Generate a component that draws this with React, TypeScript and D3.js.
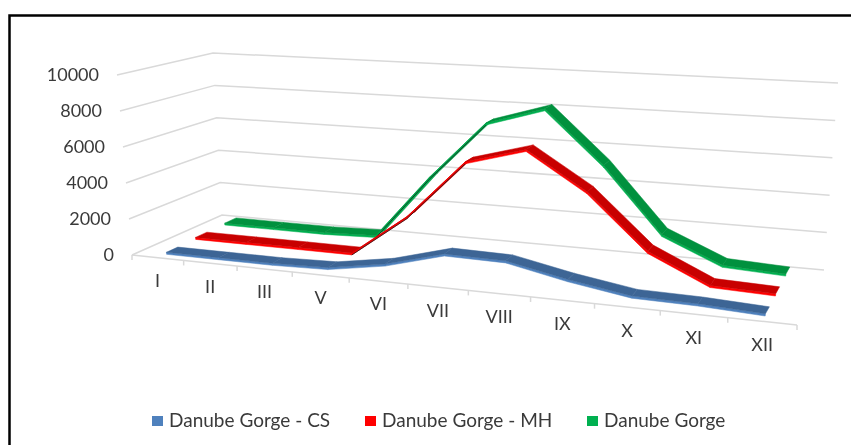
import React from "react";
import * as d3 from "d3";

const categories = ["I", "II", "III", "V", "VI", "VII", "VIII", "IX", "X", "XI", "XII"];
const gorgeCS = [70, 70, 70, 150, 650, 1500, 1450, 800, 300, 250, 100];
const gorgeMH = [150, 150, 150, 150, 2450, 5700, 6600, 4600, 1750, 300, 200];
const gorge = [200, 200, 200, 300, 3900, 7200, 8200, 5300, 1800, 450, 300];
const yTicks = [0, 2000, 4000, 6000, 8000, 10000];
const seriesNames = ["Danube Gorge - CS", "Danube Gorge - MH", "Danube Gorge"];

type P = [number, number];
const lerp = (a: number, b: number, t: number) => a + (b - a) * t;
const lerpP = (a: P, b: P, t: number): P => [lerp(a[0], b[0], t), lerp(a[1], b[1], t)];

// projected corners of the 3D box: F/B front/back, L/R left/right, 0/T floor/top
const FL0: P = [132, 255], FR0: P = [797, 325], BL0: P = [222, 215], BR0: P = [824, 270];
const FLT: P = [117, 75], FRT: P = [818, 118], BLT: P = [213, 53], BRT: P = [838, 83];

const valueScale = d3.scaleLinear().domain([0, 10000]).range([0, 1]);
const bandScale = d3.scaleLinear().domain([0, categories.length]).range([0, 1]);
const warp = (u: number) => 0.84 * u + 0.16 * u * u;

function project(c: number, depth: number, v: number): P {
  const f = warp(bandScale(c));
  const floor = lerpP(lerpP(FL0, FR0, f), lerpP(BL0, BR0, f), depth);
  const top = lerpP(lerpP(FLT, FRT, f), lerpP(BLT, BRT, f), depth);
  return lerpP(floor, top, valueScale(v));
}

const pts = (a: P[]) => a.map((p) => p.map((n) => n.toFixed(1)).join(",")).join(" ");
const line2 = d3.line<P>();

const seriesList = [
  { values: gorge, depth: 5 / 6, dark: "#00913e", bright: "#00b050" },
  { values: gorgeMH, depth: 1 / 2, dark: "#c80000", bright: "#ff0000" },
  { values: gorgeCS, depth: 1 / 6, dark: "#3d6595", bright: "#4f81bd" },
];
const HALF = 0.065;
const THICK = 110;

const FONT = "Lato, 'Open Sans', sans-serif";
const TEXT = "#3a3a3a";

export default function App() {
  const legendItems = [
    { name: seriesNames[0], color: "#4f81bd", box: 152, text: 169 },
    { name: seriesNames[1], color: "#ff0000", box: 365, text: 382 },
    { name: seriesNames[2], color: "#00b050", box: 587, text: 604 },
  ];
  return (
    <svg
      width={851}
      height={445}
      style={{ position: "absolute", left: 0, top: 0, background: "#fff" }}
      fontFamily={FONT}
    >
      <g style={{ filter: "blur(0.45px)" }}>
        <path d="M9.5 446V15.5H852" fill="none" stroke="#000" strokeWidth={2.5} />
        {/* gridlines */}
        {yTicks.map((t) => (
          <path
            key={t}
            d={line2([project(0, 0, t), project(0, 1, t), project(categories.length, 1, t)]) || ""}
            fill="none"
            stroke="#d9d9d9"
            strokeWidth={1.5}
          />
        ))}
        {/* floor front axis and ticks */}
        <path
          d={line2([project(0, 0, 0), project(categories.length, 0, 0)]) || ""}
          stroke="#d9d9d9"
          strokeWidth={1.5}
          fill="none"
        />
        {d3.range(categories.length + 1).map((i) => {
          const a = project(i, 0, 0);
          return <line key={i} x1={a[0]} y1={a[1]} x2={a[0]} y2={a[1] + 5} stroke="#d9d9d9" strokeWidth={1.5} />;
        })}
        {/* y labels */}
        {yTicks.map((t) => {
          const a = project(0, 0, t);
          return (
            <text key={t} x={a[0] - 18} y={a[1]} dy="0.36em" textAnchor="end" fontSize={18} fill={TEXT}>
              {t}
            </text>
          );
        })}
        {/* x labels */}
        {categories.map((c, i) => {
          const a = project(i + 0.5, 0, 0);
          return (
            <text key={c} x={a[0]} y={a[1] + 23} dy="0.36em" textAnchor="middle" fontSize={18} fill={TEXT}>
              {c}
            </text>
          );
        })}
        {/* series ribbons */}
        {seriesList.map((s, si) => (
          <g key={si}>
            {s.values.slice(0, -1).map((v, i) => {
              const w = s.values[i + 1];
              const lo = s.depth - HALF;
              const hi = s.depth + HALF;
              const c0 = i + 0.5;
              const c1 = i + 1.5;
              const a = project(c0, lo, v);
              const b = project(c1, lo, w);
              const c = project(c1, hi, w);
              const d = project(c0, hi, v);
              const a2 = project(c0, lo, v - THICK);
              const b2 = project(c1, lo, w - THICK);
              const rising = w > v + 1000;
              return (
                <g key={i}>
                  <polygon points={pts([a, b, b2, a2])} fill={s.bright} stroke={s.bright} strokeWidth={0.5} />
                  <polygon points={pts([a, b, c, d])} fill={rising ? s.bright : s.dark} stroke={s.dark} strokeWidth={0.5} />
                  {rising && si < 2 && (
                    <line x1={a2[0]} y1={a2[1]} x2={b2[0]} y2={b2[1]} stroke="#1a1a1a" strokeWidth={0.8} />
                  )}
                </g>
              );
            })}
          </g>
        ))}
        {/* legend */}
        {legendItems.map((l) => (
          <g key={l.name}>
            <rect x={l.box} y={416} width={11} height={10} fill={l.color} />
            <text x={l.text} y={420.5} dy="0.36em" fontSize={19} fill={TEXT}>
              {l.name}
            </text>
          </g>
        ))}
      </g>
    </svg>
  );
}
